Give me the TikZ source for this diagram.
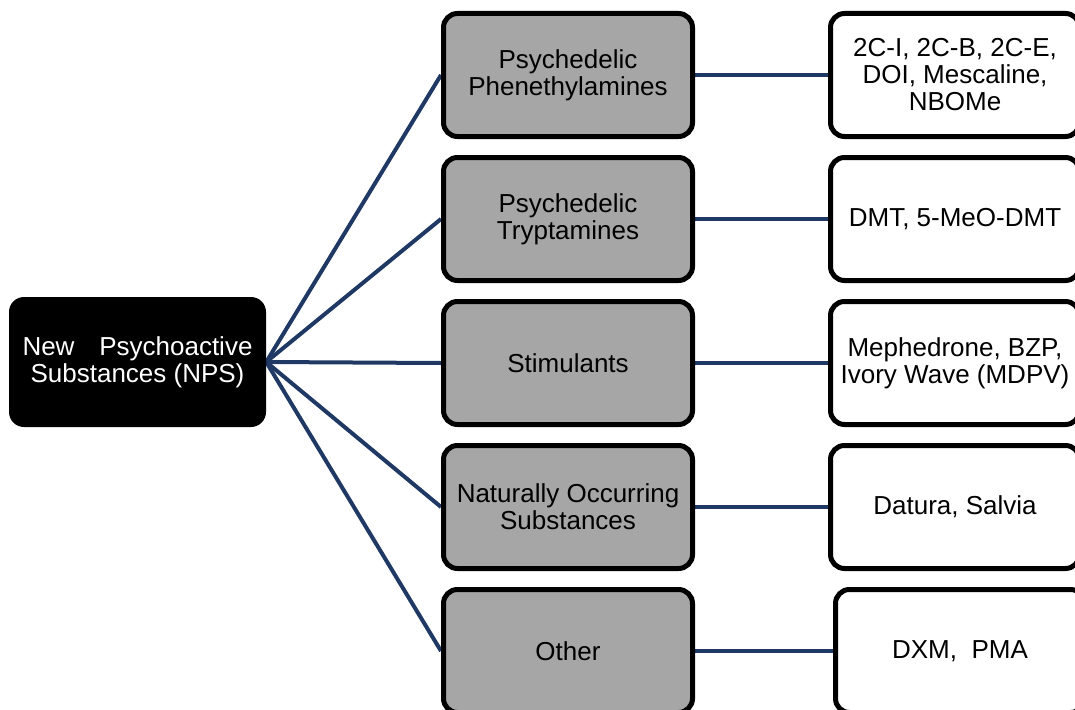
\documentclass[tikz,border=0pt]{standalone}
\usepackage{fontspec}
\setmainfont{Liberation Sans}
\usetikzlibrary{positioning,backgrounds}
\definecolor{linkblue}{RGB}{31,56,100}
\tikzstyle{root}=[rectangle,rounded corners=15pt,fill=black,text=white,
              minimum width=257pt,minimum height=130pt,align=center]
\tikzstyle{class}=[rectangle,rounded corners=14pt,draw=black,line width=5pt,
              fill=black!35,minimum width=249pt,minimum height=123pt,align=center]
\tikzstyle{example}=[class,fill=white]
\tikzstyle{link}=[draw=linkblue,line width=4pt]

\begin{document}
\begin{tikzpicture}[x=1pt,y=-1pt,node distance=16pt and 133pt,
                    font=\fontsize{26}{27}\selectfont]
	\useasboundingbox (0,0) rectangle (1075,709);
	\clip (0,0) rectangle (1075,709);

	\node[root] (nps) at (137.5,362) {\makebox[230pt][s]{New Psychoactive}\\Substances (NPS)};

	\node[class] (c1) at (568,75) {Psychedelic\\Phenethylamines};
	\node[class] (c2) [below=of c1] {Psychedelic\\Tryptamines};
	\node[class] (c3) [below=of c2] {Stimulants};
	\node[class] (c4) [below=of c3] {Naturally Occurring\\Substances};
	\node[class] (c5) [below=of c4] {Other};

	\node[example] (e1) [right=of c1] {2C-I, 2C-B, 2C-E,\\DOI, Mescaline,\\NBOMe};
	\node[example] (e2) [right=of c2] {DMT, 5-MeO-DMT};
	\node[example] (e3) [right=of c3] {Mephedrone, BZP,\\Ivory Wave (MDPV)};
	\node[example] (e4) [right=of c4] {Datura, Salvia};
	\node[example] (e5) [right=138pt of c5] {DXM,\ \ PMA};

  \begin{scope}[on background layer]
	\foreach \i in {1,...,5} {
		\path [link] (nps.east) -- (c\i.west);
		\path [link] (c\i.east) -- (e\i.west);
	}
  \end{scope}
\end{tikzpicture}
\end{document}
